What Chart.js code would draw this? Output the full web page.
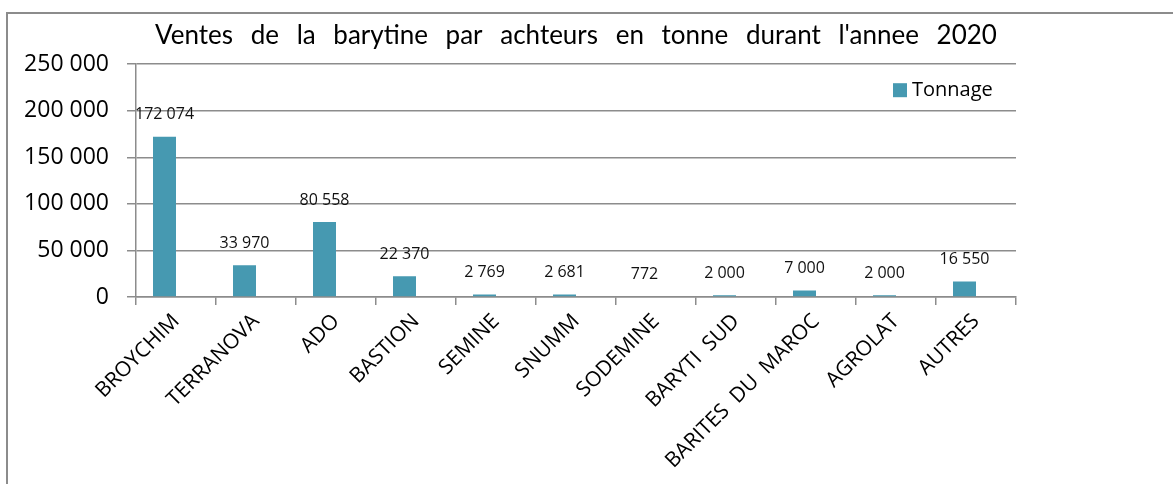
<!DOCTYPE html>
<html>
<head>
<meta charset="utf-8">
<script src="https://cdn.jsdelivr.net/npm/chart.js@4/dist/chart.umd.min.js"></script>
<style>
  html, body { margin: 0; padding: 0; background: #ffffff; overflow: hidden; }
  #wrap { position: relative; width: 1173px; height: 484px; overflow: hidden; }
  #frame { position: absolute; left: 6px; top: 12px; width: 1400px; height: 700px;
           border-left: 2px solid #8c8c8c; border-top: 2px solid #8c8c8c; }
  canvas { position: absolute; left: 0; top: 0; }
</style>
</head>
<body>
<div id="wrap">
  <div id="frame"></div>
  <canvas id="c" width="1173" height="484"></canvas>
</div>
<script>
const categories = ['BROYCHIM', 'TERRANOVA', 'ADO', 'BASTION', 'SEMINE', 'SNUMM', 'SODEMINE', 'BARYTI  SUD', 'BARITES  DU  MAROC', 'AGROLAT', 'AUTRES'];
const tonnage = [172074, 33970, 80558, 22370, 2769, 2681, 772, 2000, 7000, 2000, 16550];
const yTicks = [0, 50000, 100000, 150000, 200000, 250000];
const seriesName = 'Tonnage';
const chartTitle = "Ventes de la barytine par achteurs en tonne durant l'annee 2020";

const barColor = '#4699B1';
const gridColor = '#8c8c8c';

function fmt(v) {
  return String(v).replace(/\B(?=(\d{3})+(?!\d))/g, ' ');
}

// wide word spacing for the title only (tick labels are drawn later, z:1)
const titleSpacing = {
  id: 'titleSpacing',
  beforeDraw(chart) { chart.ctx.wordSpacing = '11px'; },
  beforeDatasetsDraw(chart) { chart.ctx.wordSpacing = '0px'; }
};

const valueLabels = {
  id: 'valueLabels',
  afterDatasetsDraw(chart) {
    const ctx = chart.ctx;
    const meta = chart.getDatasetMeta(0);
    ctx.save();
    ctx.font = '16px "Open Sans"';
    ctx.fillStyle = '#111111';
    ctx.textAlign = 'center';
    ctx.textBaseline = 'middle';
    meta.data.forEach((el, i) => {
      ctx.fillText(fmt(chart.data.datasets[0].data[i]), el.x, el.y - 22);
    });
    ctx.restore();
  }
};

const insideLegend = {
  id: 'insideLegend',
  afterDraw(chart) {
    const ctx = chart.ctx;
    const ca = chart.chartArea;
    const bx = ca.right - 123, by = ca.top + 19;
    ctx.save();
    ctx.fillStyle = chart.data.datasets[0].backgroundColor;
    ctx.fillRect(bx, by, 14, 14);
    ctx.fillStyle = '#000000';
    ctx.font = '20px "Open Sans"';
    ctx.textAlign = 'left';
    ctx.textBaseline = 'middle';
    ctx.fillText(chart.data.datasets[0].label, bx + 19, by + 7);
    ctx.restore();
  }
};

new Chart(document.getElementById('c'), {
  type: 'bar',
  data: {
    labels: categories,
    datasets: [
      { label: seriesName, data: tonnage, backgroundColor: barColor,
        categoryPercentage: 0.575, barPercentage: 1.0 },
      { label: '', data: [], backgroundColor: 'rgba(0,0,0,0)',
        categoryPercentage: 0.575, barPercentage: 1.0 }
    ]
  },
  options: {
    responsive: false,
    devicePixelRatio: 1,
    animation: false,
    layout: { padding: { left: 0, right: 157, top: 0, bottom: 0 } },
    plugins: {
      title: {
        display: true,
        fullSize: false,
        text: chartTitle,
        color: '#000000',
        font: { family: 'Lato', size: 26, weight: 'normal' },
        padding: { top: 20, bottom: 13 }
      },
      legend: { display: false },
      tooltip: { enabled: false }
    },
    scales: {
      x: {
        afterFit(scale) { scale.height = 187; },
        grid: { display: true, drawOnChartArea: false, drawTicks: true, tickLength: 8,
                color: gridColor, lineWidth: 1.5, offset: true },
        border: { color: gridColor, width: 1.5 },
        ticks: {
          z: 1,
          autoSkip: false, minRotation: 45, maxRotation: 45,
          color: '#000000',
          font: { family: 'Open Sans', size: 21 },
          padding: 4
        }
      },
      y: {
        min: 0, max: 250000,
        afterFit(scale) { scale.width = 136; },
        afterBuildTicks(scale) { scale.ticks = yTicks.map(v => ({ value: v })); },
        grid: { color: gridColor, lineWidth: 1.5, tickLength: 9 },
        border: { color: gridColor, width: 1.5 },
        ticks: {
          z: 1,
          color: '#000000',
          font: { family: 'Open Sans', size: 23 },
          padding: 18,
          callback: (v) => fmt(v)
        }
      }
    }
  },
  plugins: [titleSpacing, valueLabels, insideLegend]
});
</script>
</body>
</html>
